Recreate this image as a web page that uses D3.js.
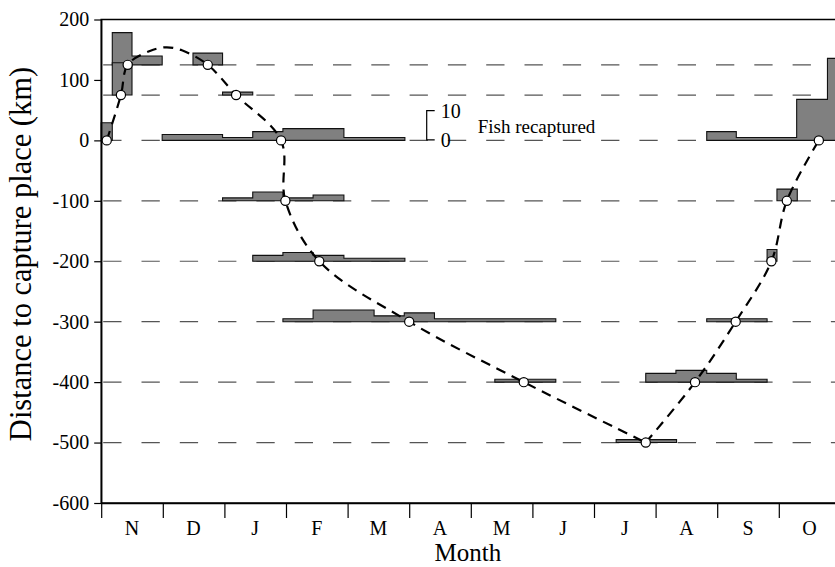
<!DOCTYPE html>
<html>
<head>
<meta charset="utf-8">
<script src="https://cdn.jsdelivr.net/npm/d3@7"></script>
<style>
  html, body { margin: 0; padding: 0; background: #fff; }
  svg { display: block; }
  text { font-family: "Liberation Serif", "Times New Roman", Times, serif; fill: #000; }
</style>
</head>
<body>
<svg id="chart" width="835" height="567"></svg>
<script>
// Months of the season, Nov → Oct; x is measured in months from 1 Nov
const months = ["N", "D", "J", "F", "M", "A", "M", "J", "J", "A", "S", "O"];
const kmTicks = [-600, -500, -400, -300, -200, -100, 0, 100, 200];

// Distance bands (km from capture place) along which recaptures are tallied
const bandKm = [125, 75, 0, -100, -200, -300, -400, -500];

// Recaptures per band: [from month, to month, number of fish]
const recap125 = [[0.18, 0.50, 11], [0.50, 0.99, 3], [1.49, 1.97, 4]];
const recap75 = [[0.18, 0.50, 11], [1.97, 2.46, 1]];
const recap0 = [[0.00, 0.18, 6], [0.99, 1.97, 2], [1.97, 2.46, 1], [2.46, 2.95, 3],
                [2.95, 3.94, 4], [3.94, 4.93, 1],
                [9.83, 10.31, 3], [10.31, 11.29, 1], [11.29, 11.79, 14], [11.79, 12.0, 28]];
const recapM100 = [[1.97, 2.46, 1], [2.46, 2.95, 3], [2.95, 3.44, 1], [3.44, 3.94, 2],
                   [10.97, 11.30, 4]];
const recapM200 = [[2.46, 2.95, 2], [2.95, 3.44, 3], [3.44, 3.94, 2], [3.94, 4.93, 1],
                   [10.81, 10.97, 4]];
const recapM300 = [[2.95, 3.44, 1], [3.44, 4.43, 4], [4.43, 4.92, 2], [4.92, 5.41, 3],
                   [5.41, 7.38, 1], [9.83, 10.81, 1]];
const recapM400 = [[6.39, 7.38, 1], [8.84, 9.33, 3], [9.33, 9.83, 4], [9.83, 10.31, 3],
                   [10.31, 10.81, 1]];
const recapM500 = [[8.36, 9.34, 1]];

// Mean position of the shoal: southward run (Nov → Jul) and return run (Jul → Oct)
const southMonth = [0.09, 0.32, 0.43, 0.79, 1.06, 1.31, 1.73, 2.19, 2.92, 2.99, 3.54, 5.00, 6.86, 8.84];
const southKm    = [0,    75,   125,  148,  154,  149,  125,  75,   0,    -100, -200, -300, -400, -500];
const southMark  = [1,    1,    1,    0,    0,    0,    1,    1,    1,    1,    1,    1,    1,    1];
const northMonth = [8.84, 9.64, 10.30, 10.88, 11.13, 11.65];
const northKm    = [-500, -400, -300,  -200,  -100,  0];
const northMark  = [0,    1,    1,     1,     1,     1];

const bands = [recap125, recap75, recap0, recapM100, recapM200, recapM300, recapM400, recapM500]
  .map((bins, i) => ({ km: bandKm[i], bins }));

const svg = d3.select("#chart");
const plot = { left: 101.2, right: 840.4, top: 19.5, bottom: 503 };

const x = d3.scaleLinear().domain([0, 12]).range([plot.left, plot.right]);
const y = d3.scaleLinear().domain([-600, 200]).range([plot.bottom, plot.top]);
// height of the recapture bars: pixels per fish
const fish = d3.scaleLinear().domain([0, 10]).range([0, 29.3]);

// dashed reference lines for each band
svg.append("g")
  .selectAll("line")
  .data(bandKm)
  .join("line")
  .attr("x1", plot.left + 2)
  .attr("x2", plot.right)
  .attr("y1", d => y(d))
  .attr("y2", d => y(d))
  .attr("stroke", "#555")
  .attr("stroke-width", 1.2)
  .attr("stroke-dasharray", "18.3,20");

// step outlines for the recapture counts, one polygon per run of adjacent bins
const outline = d3.line().x(d => d[0]).y(d => d[1]);
function runs(bins) {
  const out = [];
  let cur = [];
  bins.forEach(b => {
    if (cur.length && Math.abs(cur[cur.length - 1][1] - b[0]) > 1e-6) { out.push(cur); cur = []; }
    cur.push(b);
  });
  if (cur.length) out.push(cur);
  return out;
}
const gBars = svg.append("g");
bands.forEach(band => {
  const base = y(band.km);
  runs(band.bins).forEach(run => {
    const pts = [[x(run[0][0]), base]];
    run.forEach(b => {
      pts.push([x(b[0]), base - fish(b[2])]);
      pts.push([x(b[1]), base - fish(b[2])]);
    });
    pts.push([x(run[run.length - 1][1]), base]);
    gBars.append("path")
      .attr("d", outline(pts) + "Z")
      .attr("fill", "#808080")
      .attr("stroke", "#111")
      .attr("stroke-width", 1.1)
      .attr("stroke-linejoin", "miter");
  });
});

// frame
svg.append("rect")
  .attr("x", plot.left)
  .attr("y", plot.top)
  .attr("width", plot.right - plot.left)
  .attr("height", plot.bottom - plot.top)
  .attr("fill", "none")
  .attr("stroke", "#000")
  .attr("stroke-width", 1.5);

const serif = "'Liberation Serif', 'Times New Roman', Times, serif";

// y axis (plain hyphen for negative labels)
const yAxis = svg.append("g")
  .attr("transform", `translate(${plot.left},0)`)
  .call(d3.axisLeft(y).tickValues(kmTicks).tickSize(7).tickSizeOuter(0).tickPadding(5)
    .tickFormat(d => String(d)))
  .attr("font-family", serif)
  .attr("font-size", 20);
yAxis.select(".domain").attr("stroke-width", 1.5);
yAxis.selectAll("line").attr("stroke-width", 1.2);
yAxis.selectAll("text").style("font-family", serif).style("font-size", "20px");

// x axis: ticks at month boundaries, labels centred on each month
const xAxis = svg.append("g")
  .attr("transform", `translate(0,${plot.bottom})`)
  .call(d3.axisBottom(x).tickValues(d3.range(0, 13)).tickSize(15).tickSizeOuter(0).tickFormat(""));
xAxis.select(".domain").attr("stroke-width", 1.5);
xAxis.selectAll("line").attr("stroke-width", 1.2);

svg.append("g")
  .selectAll("text")
  .data(months)
  .join("text")
  .attr("x", (d, i) => x(i + 0.5))
  .attr("y", plot.bottom + 32)
  .attr("text-anchor", "middle")
  .attr("font-size", 20)
  .text(d => d);

svg.append("text")
  .attr("x", (plot.left + plot.right) / 2 - 3)
  .attr("y", 561)
  .attr("text-anchor", "middle")
  .attr("font-size", 25)
  .text("Month");

svg.append("text")
  .attr("transform", `translate(31,254) rotate(-90)`)
  .attr("text-anchor", "middle")
  .attr("font-size", 30.5)
  .text("Distance to capture place (km)");

// trend lines through the band crossings
const south = southMonth.map((m, i) => ({ m, km: southKm[i], mark: southMark[i] }));
const north = northMonth.map((m, i) => ({ m, km: northKm[i], mark: northMark[i] }));
const trendLine = d3.line().x(d => x(d.m)).y(d => y(d.km)).curve(d3.curveCatmullRom.alpha(0.5));
svg.append("g")
  .selectAll("path")
  .data([south, north])
  .join("path")
  .attr("d", trendLine)
  .attr("fill", "none")
  .attr("stroke", "#000")
  .attr("stroke-width", 2.2)
  .attr("stroke-dasharray", "10,7");

svg.append("g")
  .selectAll("circle")
  .data(south.concat(north).filter(d => d.mark))
  .join("circle")
  .attr("cx", d => x(d.m))
  .attr("cy", d => y(d.km))
  .attr("r", 4.6)
  .attr("fill", "#fff")
  .attr("stroke", "#000")
  .attr("stroke-width", 1.2);

// scale key for the recapture bars
const key = { x: 426.7, base: y(0) - 0.5 };
svg.append("path")
  .attr("d", d3.line()([
    [key.x + 8, key.base - fish(10)],
    [key.x, key.base - fish(10)],
    [key.x, key.base],
    [key.x + 8, key.base]
  ]))
  .attr("fill", "none")
  .attr("stroke", "#000")
  .attr("stroke-width", 1.2);
svg.append("text").attr("x", key.x + 14).attr("y", key.base - fish(10) + 7)
  .attr("font-size", 20).text("10");
svg.append("text").attr("x", key.x + 14).attr("y", key.base + 7)
  .attr("font-size", 20).text("0");
svg.append("text").attr("x", key.x + 51).attr("y", key.base - 7)
  .attr("font-size", 19).text("Fish recaptured");
</script>
</body>
</html>
